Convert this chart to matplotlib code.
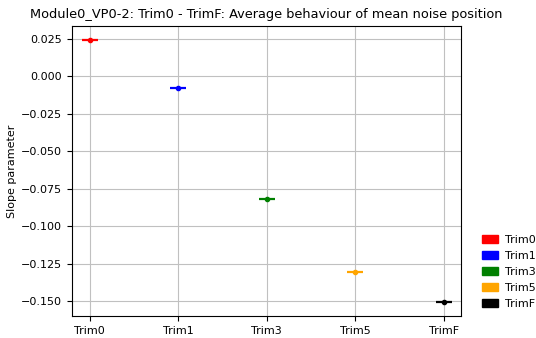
import matplotlib
matplotlib.use("Agg")
import matplotlib.pyplot as plt
from matplotlib.patches import Patch

trims = ["Trim0", "Trim1", "Trim3", "Trim5", "TrimF"]
slopes = [0.0245, -0.0075, -0.0815, -0.1305, -0.1505]
slope_err = [0.0004, 0.0004, 0.0004, 0.0004, 0.0004]
colors = ["red", "blue", "green", "orange", "black"]

fig = plt.figure(figsize=(5.36, 3.38), dpi=100)
ax = fig.add_axes([0.134, 0.065, 0.727, 0.858])

for i, (t, s, e, c) in enumerate(zip(trims, slopes, slope_err, colors)):
    ax.errorbar(i, s, yerr=e, fmt="o", color=c, markersize=3, zorder=3)
    ax.plot(i, s, marker="_", color=c, markersize=12, markeredgewidth=1.6, zorder=3)

ax.set_xticks(range(len(trims)))
ax.set_xticklabels(trims)
ax.set_xlim(-0.2, 4.2)
ax.set_ylim(-0.160, 0.0337)
ax.set_yticks([0.025, 0.0, -0.025, -0.05, -0.075, -0.1, -0.125, -0.15])
ax.grid(True, color="#c0c0c0", linewidth=0.8)
ax.set_axisbelow(True)
ax.tick_params(labelsize=8)
ax.set_ylabel("Slope parameter", fontsize=8)
ax.yaxis.set_label_coords(-0.14, 0.5)
ax.set_title("Module0_VP0-2: Trim0 - TrimF: Average behaviour of mean noise position", fontsize=9.3)

handles = [Patch(color=c, label=t) for t, c in zip(trims, colors)]
fig.legend(handles=handles, loc="lower left", bbox_to_anchor=(0.9, 0.085),
           frameon=False, fontsize=8, handlelength=1.4, handletextpad=0.6,
           borderpad=0, borderaxespad=0, labelspacing=0.55)

fig.savefig("out.png", dpi=100)
